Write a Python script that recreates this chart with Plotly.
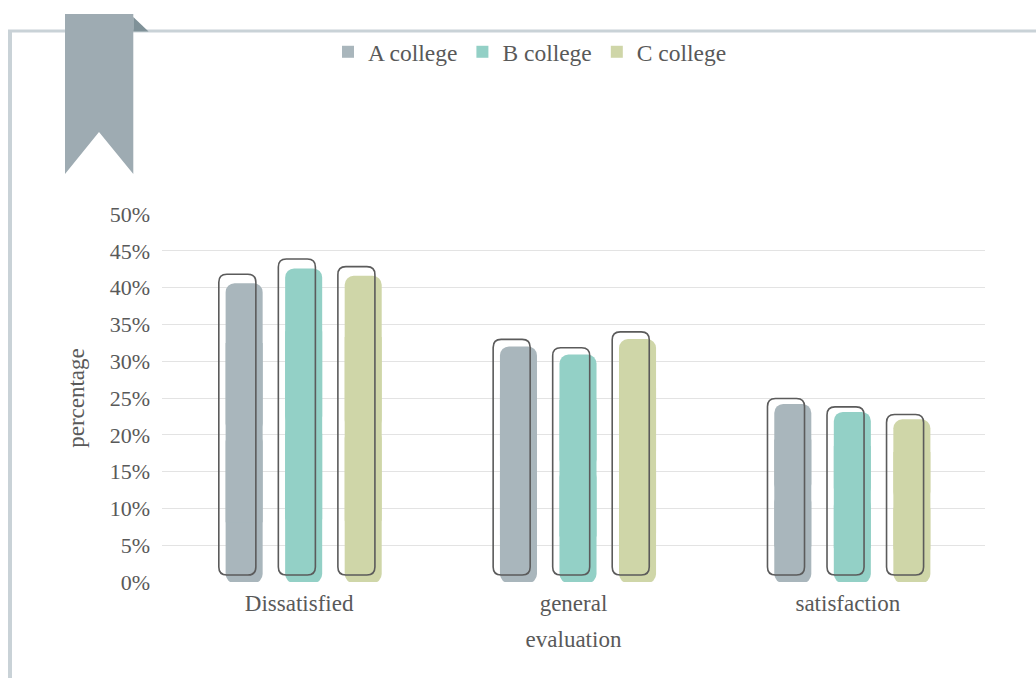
import plotly.graph_objects as go

# ---------------- data ----------------
categories = ["Dissatisfied", "general", "satisfaction"]
series_names = ["A college", "B college", "C college"]
a_college = [40.6, 32.0, 24.2]
b_college = [42.6, 30.9, 23.1]
c_college = [41.6, 33.0, 22.1]
y_tick_values = [0, 5, 10, 15, 20, 25, 30, 35, 40, 45, 50]
y_tick_labels = ["0%", "5%", "10%", "15%", "20%", "25%", "30%", "35%", "40%", "45%", "50%"]
x_title = "evaluation"
y_title = "percentage"

# ---------------- styles / layout ----------------
W, H = 1036, 678
ML, MR, MT, MB = 162, 51, 214, 96
PW, PH = W - ML - MR, H - MT - MB
Y_RANGE = [0, 50]
X_RANGE = [-0.5, len(categories) - 0.5]
PX_X = PW / (X_RANGE[1] - X_RANGE[0])
PX_Y = PH / (Y_RANGE[1] - Y_RANGE[0])

COLORS = ["#a9b6bc", "#93d0c6", "#cfd6a8"]
OUTLINE_COLOR = "#5b5b5b"
TEXT_COLOR = "#595959"
FONT = "Liberation Serif"
SLOT = 0.217
BAR_W = 0.135
FILL_SHIFT = 0.0164
OUT_SHIFT = -0.0084
OUT_SCALE = 1.03
OUT_BASE = 0.95
FILL_BASE = -0.14
FILL_R = 9
OUT_R = 8

series = [a_college, b_college, c_college]
xs = list(range(len(categories)))

fig = go.Figure()

# filled bars: rounded top piece, rounded bottom piece, square middle piece (legend)
for i, (name, vals) in enumerate(zip(series_names, series)):
    center = (i - 1) * SLOT + FILL_SHIFT
    common = dict(x=xs, offset=center - BAR_W / 2, width=BAR_W, name=name,
                  legendgroup=name, hoverinfo="skip")
    fig.add_trace(go.Bar(
        y=[v - 0.5 * v for v in vals], base=[0.5 * v for v in vals], showlegend=False,
        marker=dict(color=COLORS[i], cornerradius=FILL_R, line=dict(width=0)), **common))
    fig.add_trace(go.Bar(
        y=[-(0.5 * v - FILL_BASE) for v in vals], base=[0.5 * v for v in vals], showlegend=False,
        marker=dict(color=COLORS[i], cornerradius=FILL_R, line=dict(width=0)), **common))
    fig.add_trace(go.Bar(
        y=[0.6 * v for v in vals], base=[0.2 * v for v in vals], showlegend=True,
        marker=dict(color=COLORS[i], line=dict(width=0)), **common))

# outline (offset rounded rectangles) computed from the data
shapes = []
rx, ry = OUT_R / PX_X, OUT_R / PX_Y
for i, vals in enumerate(series):
    for j, v in enumerate(vals):
        c = j + (i - 1) * SLOT + OUT_SHIFT
        x0, x1 = c - BAR_W / 2, c + BAR_W / 2
        y0, y1 = OUT_BASE, v * OUT_SCALE
        p = (f"M {x0+rx},{y0} L {x1-rx},{y0} Q {x1},{y0} {x1},{y0+ry} "
             f"L {x1},{y1-ry} Q {x1},{y1} {x1-rx},{y1} L {x0+rx},{y1} "
             f"Q {x0},{y1} {x0},{y1-ry} L {x0},{y0+ry} Q {x0},{y0} {x0+rx},{y0} Z")
        shapes.append(dict(type="path", xref="x", yref="y", path=p,
                           line=dict(color=OUTLINE_COLOR, width=1.6),
                           fillcolor="rgba(0,0,0,0)", layer="above"))

# decorative frame and ribbon (pixel positions -> paper)
def fx(px):
    return (px - ML) / PW

def fy(py):
    return (H - MB - py) / PH

def ppath(pts):
    return "M " + " L ".join(f"{fx(a)},{fy(b)}" for a, b in pts) + " Z"

shapes.append(dict(type="line", xref="paper", yref="paper", x0=fx(8), x1=fx(1040), y0=fy(31), y1=fy(31),
                   line=dict(color="#c9d2d7", width=3), layer="below"))
shapes.append(dict(type="line", xref="paper", yref="paper", x0=fx(10), x1=fx(10), y0=fy(30), y1=fy(682),
                   line=dict(color="#c9d2d7", width=4), layer="below"))
shapes.append(dict(type="path", xref="paper", yref="paper",
                   path=ppath([(65, 14), (133.3, 14), (133.3, 174), (99, 132), (65, 174)]),
                   fillcolor="#9eabb2", line=dict(width=0), layer="below"))
shapes.append(dict(type="path", xref="paper", yref="paper",
                   path=ppath([(133.3, 17), (148.5, 31.5), (133.3, 31.5)]),
                   fillcolor="#7f9198", line=dict(width=0), layer="below"))

fig.update_layout(
    width=W, height=H, margin=dict(l=ML, r=MR, t=MT, b=MB, autoexpand=False),
    paper_bgcolor="white", plot_bgcolor="white",
    barmode="overlay", shapes=shapes,
    font=dict(family=FONT, color=TEXT_COLOR, size=22),
    legend=dict(orientation="h", x=fx(530), xanchor="center", y=fy(52), yanchor="middle",
                font=dict(family=FONT, size=23.5, color=TEXT_COLOR),
                bgcolor="rgba(0,0,0,0)", itemwidth=30, traceorder="normal"),
    xaxis=dict(range=X_RANGE, tickvals=xs, ticktext=categories, showgrid=False, zeroline=False,
               showline=False, ticks="", ticklabelstandoff=5,
               tickfont=dict(size=23, color=TEXT_COLOR),
               title=dict(text=x_title, font=dict(size=23, color=TEXT_COLOR), standoff=15)),
    yaxis=dict(range=Y_RANGE, tickvals=y_tick_values, ticktext=y_tick_labels, showgrid=True,
               gridcolor="#e3e3e3", gridwidth=1, zeroline=False, showline=False, ticks="",
               ticklabelstandoff=11, tickfont=dict(size=22, color=TEXT_COLOR),
               title=dict(text=y_title, font=dict(size=23, color=TEXT_COLOR), standoff=18)),
)

fig.write_html("out.html")
